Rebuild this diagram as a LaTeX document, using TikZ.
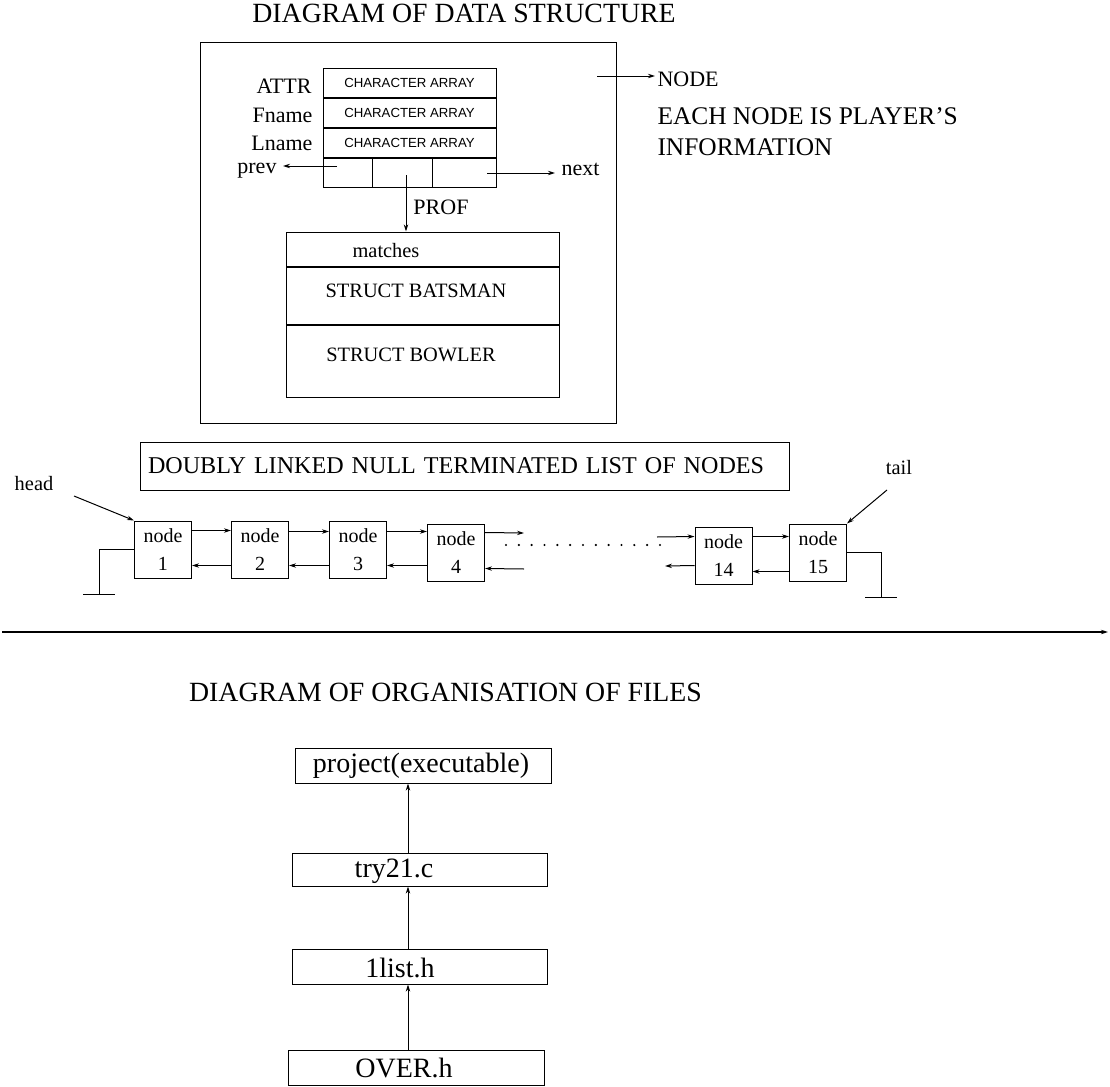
\documentclass[tikz,border=0pt]{standalone}
\usepackage{fontspec}
\setmainfont{Liberation Serif}
\newfontfamily\arrfont{Liberation Sans}
\usepackage{tikz}
\usetikzlibrary{arrows.meta}
\usetikzlibrary{positioning}

\tikzset{
  title/.style={inner sep=1pt, font=\fontsize{13.9}{16}\selectfont},
  lbl/.style={inner sep=1pt, font=\fontsize{11}{13}\selectfont},
  small/.style={inner sep=1pt, font=\fontsize{10.2}{12}\selectfont},
  field/.style={draw, minimum width=86.5pt, minimum height=14.5pt, inner sep=0pt,
    font=\arrfont\fontsize{6.6}{7}\selectfont},
  structrow/.style={draw, minimum width=136.5pt, inner sep=0pt},
  listbox/.style={draw, minimum width=28.5pt, minimum height=28.5pt, inner sep=0pt,
    align=center, font=\fontsize{10}{14}\selectfont},
  filebox/.style={draw, minimum width=128pt, minimum height=17.5pt, inner sep=0pt},
  filetxt/.style={inner sep=1pt, font=\fontsize{14}{16}\selectfont}
}

\begin{document}
\begin{tikzpicture}[x=0.5pt, y=-0.5pt, >={Stealth[length=3.5pt,width=2.2pt]}, line width=0.5pt]

    \useasboundingbox (0,0) rectangle (1110,1087);

    % data structure of one node
    \node[title] (dstitle) at (464,13) {DIAGRAM OF DATA STRUCTURE};
    \node[draw, minimum width=208pt, minimum height=190.5pt] (outer) at (408,232.5) {};

    \node[field] (attr) at (409.5,83) {CHARACTER ARRAY};
    \node[field, below=0pt of attr] (fname) {CHARACTER ARRAY};
    \node[field, below=0pt of fname] (lname) {CHARACTER ARRAY};
    \node[field, below=0pt of lname] (links) {};
    \draw ([xshift=25pt]links.north west) -- ([xshift=25pt]links.south west);
    \draw ([xshift=55pt]links.north west) -- ([xshift=55pt]links.south west);

    \node[lbl, anchor=east] (attrlbl) at (314,86) {ATTR};
    \node[lbl, anchor=east] (fnamelbl) at (315,115) {Fname};
    \node[lbl, anchor=east] (lnamelbl) at (315,143) {Lname};

    \coordinate (prevstart) at (337,166);
    \coordinate (nextstart) at (487,173);
    \coordinate (profstart) at (406,175);
    \node[lbl, inner xsep=3pt, anchor=east] (prev) at (283,171) {prev};
    \node[lbl, inner xsep=3pt, anchor=west] (next) at (555,169) {next};
    \draw[->] (prevstart) -- (prevstart -| prev.east);
    \draw[->] (nextstart) -- (nextstart -| next.west);

    \node[structrow, minimum height=17pt] (matchrow) at (422.5,249) {};
    \node[structrow, minimum height=28.5pt, below=0pt of matchrow] (batrow) {};
    \node[structrow, minimum height=36pt, below=0pt of batrow] (bowlrow) {};
    \node[small] (matchtxt) at (386,251) {matches};
    \node[small] (battxt) at (416,291) {STRUCT BATSMAN};
    \node[small] (bowltxt) at (411,355) {STRUCT BOWLER};

    \draw[->] (profstart) -- (profstart |- matchrow.north);
    \node[lbl] (prof) at (441,207) {PROF};

    \coordinate (nodestart) at (597,76);
    \node[lbl, anchor=west] (nodelbl) at (655,79) {NODE};
    \draw[->] (nodestart) -- (nodestart -| nodelbl.west);
    \node[anchor=west, align=left, inner sep=1pt, font=\fontsize{12.7}{15.5}\selectfont]
      (info) at (655,132) {EACH NODE IS PLAYER'S\\INFORMATION};

    % the list
    \node[draw, minimum height=24pt, text width=316.5pt, inner xsep=4pt, align=left,
      font=\fontsize{12.05}{14}\selectfont] (listtitle) at (464.5,466)
      {DOUBLY LINKED NULL TERMINATED LIST OF NODES};

    \node[listbox] (n1) at (163,549.5) {node\\1};
    \node[listbox] (n2) at (260,549.5) {node\\2};
    \node[listbox] (n3) at (358,549.5) {node\\3};
    \node[listbox] (n4) at (456,552.5) {node\\4};
    \node[listbox] (n14) at (723.5,555.5) {node\\14};
    \node[listbox] (n15) at (818,552.5) {node\\15};

    \draw[->] ([yshift=-5pt]n1.north east) -- ([yshift=-5pt]n2.north west);
    \draw[->] ([yshift=-22.5pt]n2.north west) -- ([yshift=-22.5pt]n1.north east);
    \draw[->] ([yshift=-5.5pt]n2.north east) -- ([yshift=-5.5pt]n3.north west);
    \draw[->] ([yshift=-22.5pt]n3.north west) -- ([yshift=-22.5pt]n2.north east);
    \draw[->] ([yshift=-5.5pt]n3.north east) -- ([yshift=-4pt]n4.north west);
    \draw[->] ([yshift=-21pt]n4.north west) -- ([yshift=-22.5pt]n3.north east);

    \coordinate (out4) at (524,533);
    \coordinate (in4) at (524,569);
    \draw[->] ([yshift=-4.5pt]n4.north east) -- (out4);
    \draw[->] (in4) -- ([yshift=-22.5pt]n4.north east);

    \foreach \i in {0,...,12}
      \fill (506+12.83*\i,545) circle (0.6pt);

    \coordinate (in14) at (657,537);
    \coordinate (out14) at (665,566);
    \draw[->] (in14) -- ([yshift=-5pt]n14.north west);
    \draw[->] ([yshift=-19.5pt]n14.north west) -- (out14);
    \draw[->] ([yshift=-5pt]n14.north east) -- ([yshift=-6.5pt]n15.north west);
    \draw[->] ([yshift=-24pt]n15.north west) -- ([yshift=-22.5pt]n14.north east);

    % null ends
    \coordinate (gnd1) at (99,594);
    \draw (n1.west) -| (gnd1);
    \draw ([xshift=-8pt]gnd1) -- ([xshift=8pt]gnd1);
    \coordinate (gnd15) at (881,597);
    \draw (n15.east) -| (gnd15);
    \draw ([xshift=-8pt]gnd15) -- ([xshift=8pt]gnd15);

    \node[small] (head) at (34,484) {head};
    \coordinate (headend) at (74,496);
    \draw[->] (headend) -- (n1.north west);
    \node[small] (tail) at (899,468) {tail};
    \coordinate (tailend) at (887,490);
    \draw[->] (tailend) -- (n15.north east);

    % separator
    \coordinate (sepl) at (2,632);
    \coordinate (sepr) at (1108,632);
    \draw[->, line width=1.2pt] (sepl) -- (sepr);

    % files
    \node[title] (fstitle) at (445.5,692) {DIAGRAM OF ORGANISATION OF FILES};

    \node[filebox] (proj) at (423,765.5) {};
    \node[filebox, minimum width=127.5pt, minimum height=16.5pt] (try) at (419.5,869.5) {};
    \node[filebox, minimum width=127.5pt] (llist) at (419.5,966.5) {};
    \node[filebox] (over) at (416,1067.5) {};
    \node[filetxt] (projtxt) at (421,766) {project(executable)};
    \node[filetxt] (trytxt) at (394,871) {try21.c};
    \node[filetxt] (llisttxt) at (400,968) {1list.h};
    \node[filetxt] (overtxt) at (404,1068) {OVER.h};

    \coordinate (fx) at (408,0);
    \draw[->] (over.north -| fx) -- (llist.south -| fx);
    \draw[->] (llist.north -| fx) -- (try.south -| fx);
    \draw[->] (try.north -| fx) -- (proj.south -| fx);

\end{tikzpicture}
\end{document}
